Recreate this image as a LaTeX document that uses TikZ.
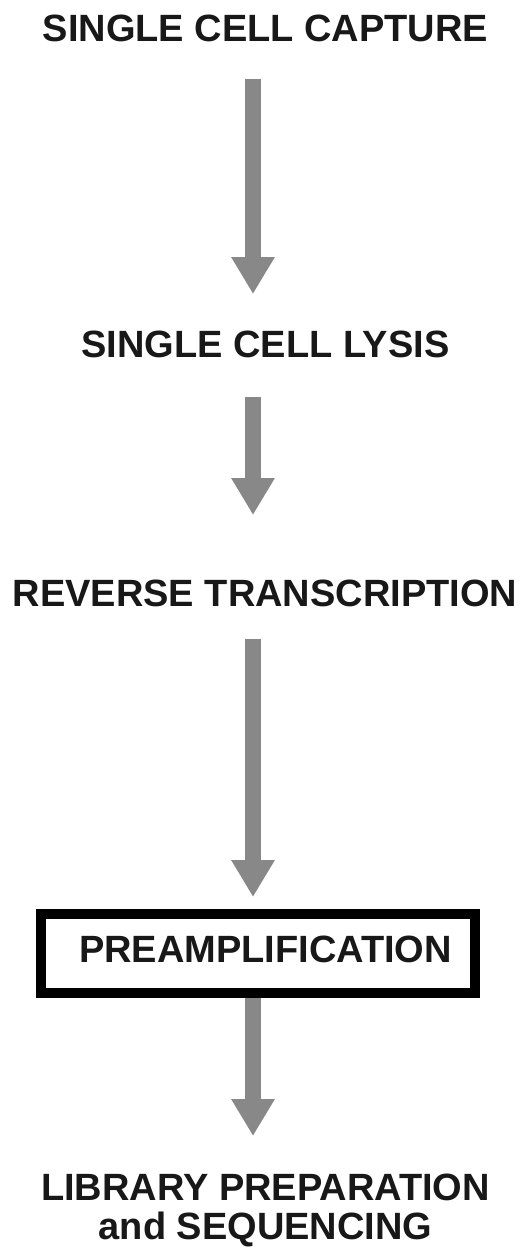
\documentclass[tikz,border=0pt]{standalone}
\usepackage{fontspec}
\setmainfont{Liberation Sans}
\usetikzlibrary{arrows.meta}
\definecolor{flowgray}{RGB}{136,136,136}
\definecolor{inkblack}{RGB}{24,24,24}
\begin{document}
\begin{tikzpicture}[x=1pt,y=-1pt,
  stage/.style={inner sep=0pt, outer sep=0pt, text=inkblack, anchor=base,
    font=\bfseries\fontsize{38}{39}\selectfont, text height=27pt, text depth=0pt},
  flow/.style={draw=flowgray, line width=16pt,
    -{Triangle[width=41pt,length=37pt]}},
  framebox/.style={draw=black, line width=10pt, inner sep=0pt, outer sep=0pt,
    minimum width=434pt, minimum height=79.5pt}]
  \useasboundingbox (0,0) rectangle (523,1250);

  % step labels
  \node[stage] (capture) at (265.5,41) {SINGLE CELL CAPTURE};
  \node[stage] (lysis)   at (265.5,357) {SINGLE CELL LYSIS};
  \node[stage] (rt)      at (265,606) {REVERSE TRANSCRIPTION};
  \node[framebox] (prebox) at (258,953.25) {};
  \node[stage] (pre)     at (265.5,962) {PREAMPLIFICATION};
  \node[stage, anchor=north, align=center, text height=, text depth=] (lib) at (265.5,1174)
    {LIBRARY PREPARATION\\and SEQUENCING};

  % arrows between steps (shaft on x = 253)
  \coordinate (ax) at (253,0);
  \draw[flow, shorten <=38pt, shorten >=36pt] (capture.south -| ax) -- (lysis.north -| ax);
  \draw[flow, shorten <=40pt, shorten >=64pt] (lysis.south -| ax) -- (rt.north -| ax);
  \draw[flow, shorten <=33pt, shorten >=16.5pt] (rt.south -| ax) -- (prebox.north -| ax);
  \draw[flow, shorten <=5pt, shorten >=38pt] (prebox.south -| ax) -- (lib.north -| ax);
\end{tikzpicture}
\end{document}
